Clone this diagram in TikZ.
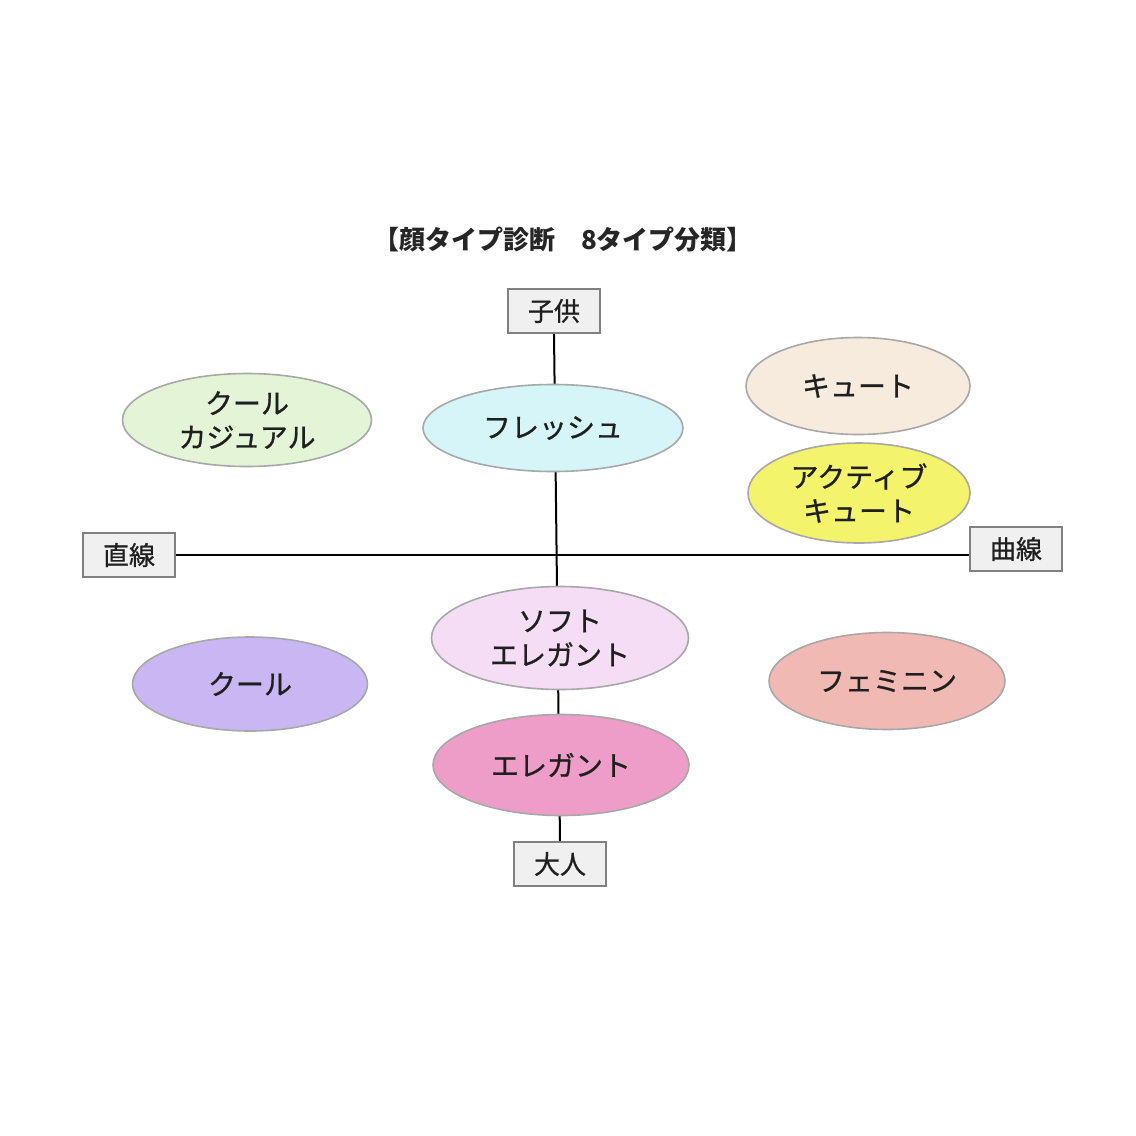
\documentclass[tikz,border=0pt]{standalone}
\usepackage{fontspec}
\setmainfont{Noto Sans CJK JP}
\newfontfamily\jpmid{Noto Sans CJK JP}[FakeBold=0.8]
\usetikzlibrary{shapes.geometric,backgrounds}
\definecolor{ccgreen}{HTML}{E3F5D6}\definecolor{frcyan}{HTML}{D5F5F8}
\definecolor{cubeige}{HTML}{F6EBDD}\definecolor{acyellow}{HTML}{F4F36C}
\definecolor{sfpink}{HTML}{F6DDF6}\definecolor{clviolet}{HTML}{C8B7F2}
\definecolor{fmsalmon}{HTML}{F0B9B3}\definecolor{elpink}{HTML}{EE9DC8}
\definecolor{rimgray}{HTML}{A8A8A8}\definecolor{boxgray}{HTML}{F0F0F0}
\begin{document}
\begin{tikzpicture}
[x=.5pt,y=-.5pt,
 t/.style={ellipse,draw=rimgray,line width=.8pt,inner sep=0pt,align=center,
  font=\jpmid\fontsize{14pt}{17pt}\selectfont,text=black!88},
 b/.style={rectangle,draw=black!50,fill=boxgray,line width=.8pt,inner sep=0pt,
  minimum width=46pt,minimum height=22pt,font=\jpmid\fontsize{13pt}{15pt}\selectfont,text=black!88}]
\useasboundingbox(0,0) rectangle (1136,1136);
\node(title) at (563,240)[font=\fontsize{13pt}{15pt}\selectfont\bfseries,text=black!85]{【顔タイプ診断　8タイプ分類】};
\node(kodomo) at (554,311)[b]{子供};\node(otona) at (560,864)[b]{大人};
\node(choku) at (129,555)[b]{直線};\node(kyoku) at (1016,549)[b]{曲線};
\node(coolcas) at (247,420)[t,fill=ccgreen,minimum width=124.5pt,minimum height=46.5pt]{クール\\カジュアル};
\node(fresh) at (553,428)[t,fill=frcyan,minimum width=130pt,minimum height=43.5pt]{フレッシュ};
\node(cute) at (858,386)[t,fill=cubeige,minimum width=112pt,minimum height=48.5pt]{キュート};
\node(active) at (859,493)[t,fill=acyellow,minimum width=111pt,minimum height=50pt]{アクティブ\\キュート};
\node(soft) at (560,638)[t,fill=sfpink,minimum width=128.5pt,minimum height=51.5pt]{ソフト\\エレガント};
\node(cool) at (250,684)[t,fill=clviolet,minimum width=117.5pt,minimum height=47pt]{クール};
\node(femi) at (887,681)[t,fill=fmsalmon,minimum width=118pt,minimum height=48.5pt]{フェミニン};
\node(elegant) at (561,765)[t,fill=elpink,minimum width=128pt,minimum height=50.5pt]{エレガント};
\begin{scope}[on background layer]
\draw[line width=1pt](kodomo.south)--(otona.north);
\draw[line width=1pt](choku.east)--(choku.east-|kyoku.west);
\end{scope}
\end{tikzpicture}
\end{document}
